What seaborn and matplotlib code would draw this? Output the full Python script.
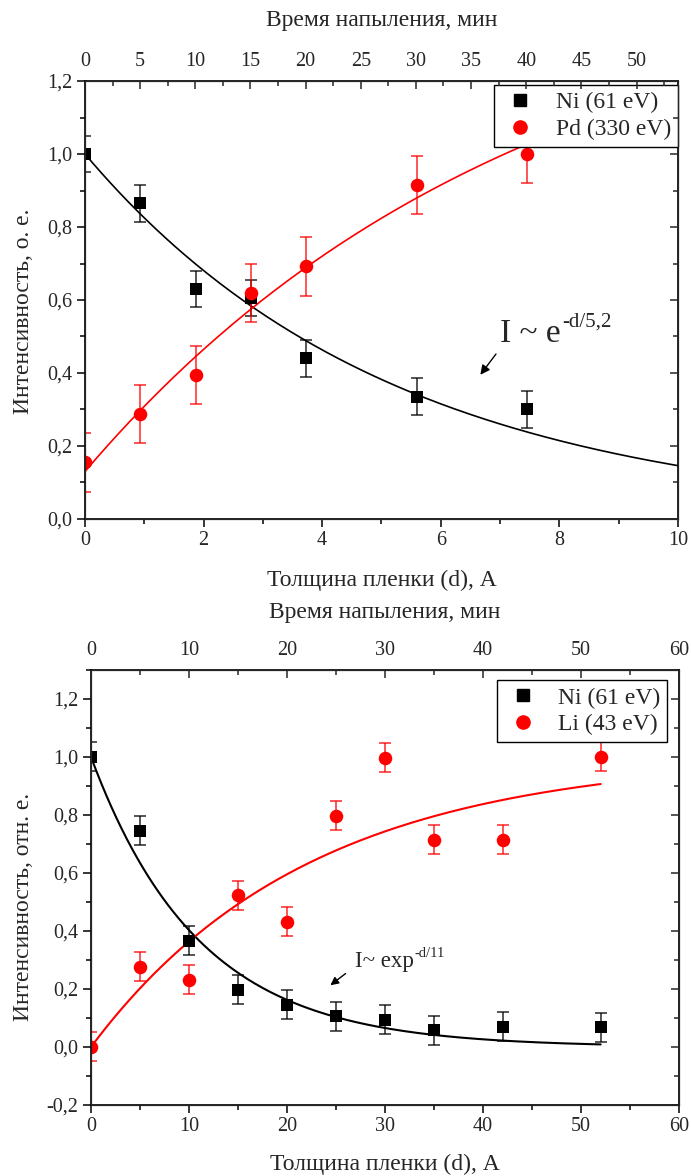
import numpy as np
import seaborn as sns
import matplotlib.pyplot as plt
from matplotlib.ticker import MultipleLocator, FuncFormatter
from matplotlib.lines import Line2D

# ---- top panel: Ni / Pd ----
d_top = [0, 0.93, 1.87, 2.8, 3.73, 5.6, 7.45]
ni_top = [1.0, 0.865, 0.63, 0.605, 0.44, 0.335, 0.30]
ni_top_err = [0.05, 0.05, 0.05, 0.05, 0.05, 0.05, 0.05]
pd_top = [0.155, 0.287, 0.395, 0.62, 0.692, 0.915, 1.0]
pd_top_err = [0.08, 0.08, 0.08, 0.08, 0.08, 0.08, 0.08]
ni_top_tau = 5.2                    # I ~ exp(-d/5.2)
pd_top_fit = (1.543, 1.413, 7.4)    # a - b*exp(-d/tau)
top_time_max = 53.75                # minutes at d = 10 A

# ---- bottom panel: Ni / Li ----
d_bot = [0, 5, 10, 15, 20, 25, 30, 35, 42, 52]
ni_bot = [1.0, 0.745, 0.367, 0.197, 0.145, 0.106, 0.093, 0.058, 0.07, 0.068]
ni_bot_err = [0.05, 0.05, 0.05, 0.05, 0.05, 0.05, 0.05, 0.05, 0.05, 0.05]
li_bot = [0.0, 0.276, 0.231, 0.524, 0.431, 0.797, 0.998, 0.714, 0.714, 1.0]
li_bot_err = [0.05, 0.05, 0.05, 0.05, 0.05, 0.05, 0.05, 0.05, 0.05, 0.05]
ni_bot_tau = 11.0
li_bot_fit = (1.003, 1.003, 22.2)

sns.set_style("ticks")
plt.rcParams['font.family'] = ['Liberation Serif', 'DejaVu Serif']

TICK_FS = 14.5
LABEL_FS = 17
comma = FuncFormatter(lambda v, p: f"{v:.1f}".replace('.', ','))
intfmt = FuncFormatter(lambda v, p: f"{v:g}")


def style_axis(ax, xlim, ylim, xmaj, xmin_, ymaj, ymin_, tlim, tmaj, tmin_):
    ax.set_xlim(*xlim)
    ax.set_ylim(*ylim)
    ax.xaxis.set_major_locator(MultipleLocator(xmaj))
    ax.xaxis.set_minor_locator(MultipleLocator(xmin_))
    ax.yaxis.set_major_locator(MultipleLocator(ymaj))
    ax.yaxis.set_minor_locator(MultipleLocator(ymin_))
    ax.yaxis.set_major_formatter(comma)
    ax.xaxis.set_major_formatter(intfmt)
    ax.tick_params(which='both', direction='out', top=False, right=False,
                   labelsize=TICK_FS, width=1.1, color='black', pad=3)
    ax.tick_params(which='major', length=6)
    ax.tick_params(which='minor', length=3.5)
    for s in ax.spines.values():
        s.set_visible(True)
        s.set_linewidth(1.2)
        s.set_color('black')

    # right side ticks (inward, no labels)
    axr = ax.twinx()
    axr.set_ylim(*ylim)
    axr.yaxis.set_major_locator(MultipleLocator(ymaj))
    axr.yaxis.set_minor_locator(MultipleLocator(ymin_))
    axr.tick_params(which='both', direction='in', labelright=False, width=1.1)
    axr.tick_params(which='major', length=6)
    axr.tick_params(which='minor', length=3.5)
    axr.grid(False)

    # top axis: deposition time
    axt = ax.twiny()
    axt.set_xlim(*tlim)
    axt.xaxis.set_major_locator(MultipleLocator(tmaj))
    axt.xaxis.set_minor_locator(MultipleLocator(tmin_))
    axt.xaxis.set_major_formatter(intfmt)
    axt.tick_params(which='both', direction='in', labelsize=TICK_FS, width=1.1, pad=7)
    axt.tick_params(which='major', length=6)
    axt.tick_params(which='minor', length=3.5)
    axt.grid(False)
    return axt


def draw_series(ax, x, y, err, color, marker, size, label):
    ax.errorbar(x, y, yerr=err, fmt='none', ecolor=color, elinewidth=1.1,
                capsize=4, capthick=1.1, zorder=3, alpha=0.85)
    sns.scatterplot(x=x, y=y, ax=ax, marker=marker, color=color, s=size,
                    edgecolor=color, linewidth=0, zorder=4, label=label, legend=False)


def add_legend(ax, labels, anchor):
    handles = [Line2D([], [], ls='none', marker='s', color='black', markersize=8),
               Line2D([], [], ls='none', marker='o', color='red', markersize=9.5)]
    leg = ax.legend(handles, labels, loc='upper right', bbox_to_anchor=anchor,
                    borderaxespad=0, fontsize=17, frameon=True, fancybox=False,
                    framealpha=1, edgecolor='black', handlelength=1.6,
                    handletextpad=0.7, labelspacing=0.22, borderpad=0.3)
    leg.get_frame().set_linewidth(1.0)
    leg.set_zorder(10)


def formula(ax, x, y, main, sup, fs, sfs):
    t = ax.text(x, y, main, fontsize=fs, ha='left', va='baseline', zorder=6)
    ax.annotate(sup, xy=(1.0, 0.72), xycoords=t, xytext=(1, 0),
                textcoords='offset points', fontsize=sfs, ha='left', va='baseline')


fig = plt.figure(figsize=(6.91, 11.76), dpi=100)

# ================= top panel =================
ax1 = fig.add_axes([0.123, 0.5587, 0.858, 0.3724])
axt1 = style_axis(ax1, (0, 10), (0, 1.2), 2, 1, 0.2, 0.1, (0, top_time_max), 5, 2.5)

xf = np.linspace(0, 10, 200)
sns.lineplot(x=xf, y=np.exp(-xf / ni_top_tau), ax=ax1, color='black', lw=1.2, zorder=2)
xp = np.linspace(0, d_top[-1], 200)
a, b, tau = pd_top_fit
sns.lineplot(x=xp, y=a - b * np.exp(-xp / tau), ax=ax1, color='red', lw=1.2, zorder=2)

draw_series(ax1, d_top, ni_top, ni_top_err, 'black', 's', 65, 'Ni (61 eV)')
draw_series(ax1, d_top, pd_top, pd_top_err, 'red', 'o', 95, 'Pd (330 eV)')
add_legend(ax1, ['Ni (61 eV)', 'Pd (330 eV)'], (1.0, 0.992))

ax1.annotate('', xy=(6.64, 0.389), xytext=(6.96, 0.458),
             arrowprops=dict(arrowstyle='-|>', color='black', lw=1.0, mutation_scale=14))
formula(ax1, 7.0, 0.485, 'I ~ e', '-d/5,2', 24, 15)

ax1.set_ylabel('Интенсивность, о. е.', fontsize=LABEL_FS)
ax1.yaxis.set_label_coords(-0.086, 0.475)
ax1.set_xlabel('Толщина пленки (d), А', fontsize=LABEL_FS)
ax1.xaxis.set_label_coords(0.5, -0.115)
axt1.set_xlabel('Время напыления, мин', fontsize=LABEL_FS)
axt1.xaxis.set_label_coords(0.5, 1.125)

# ================= bottom panel =================
ax2 = fig.add_axes([0.1317, 0.0604, 0.851, 0.3699])
axt2 = style_axis(ax2, (0, 60), (-0.2, 1.3), 10, 5, 0.2, 0.1, (0, 60), 10, 5)

xb = np.linspace(0, d_bot[-1], 200)
sns.lineplot(x=xb, y=np.exp(-xb / ni_bot_tau), ax=ax2, color='black', lw=1.5, zorder=2)
a, b, tau = li_bot_fit
sns.lineplot(x=xb, y=a - b * np.exp(-xb / tau), ax=ax2, color='red', lw=1.5, zorder=2)

draw_series(ax2, d_bot, ni_bot, ni_bot_err, 'black', 's', 65, 'Ni (61 eV)')
draw_series(ax2, d_bot, li_bot, li_bot_err, 'red', 'o', 95, 'Li (43 eV)')
add_legend(ax2, ['Ni (61 eV)', 'Li (43 eV)'], (0.98, 0.977))

ax2.annotate('', xy=(24.2, 0.207), xytext=(26.2, 0.259),
             arrowprops=dict(arrowstyle='-|>', color='black', lw=1.0, mutation_scale=12))
formula(ax2, 26.9, 0.276, 'I~ exp', '-d/11', 16.5, 10.5)

ax2.set_ylabel('Интенсивность, отн. е.', fontsize=LABEL_FS)
ax2.yaxis.set_label_coords(-0.097, 0.455)
ax2.set_xlabel('Толщина пленки (d), А', fontsize=LABEL_FS)
ax2.xaxis.set_label_coords(0.5, -0.112)
axt2.set_xlabel('Время напыления, мин', fontsize=LABEL_FS)
axt2.xaxis.set_label_coords(0.5, 1.12)

fig.savefig('out.png', dpi=100)
